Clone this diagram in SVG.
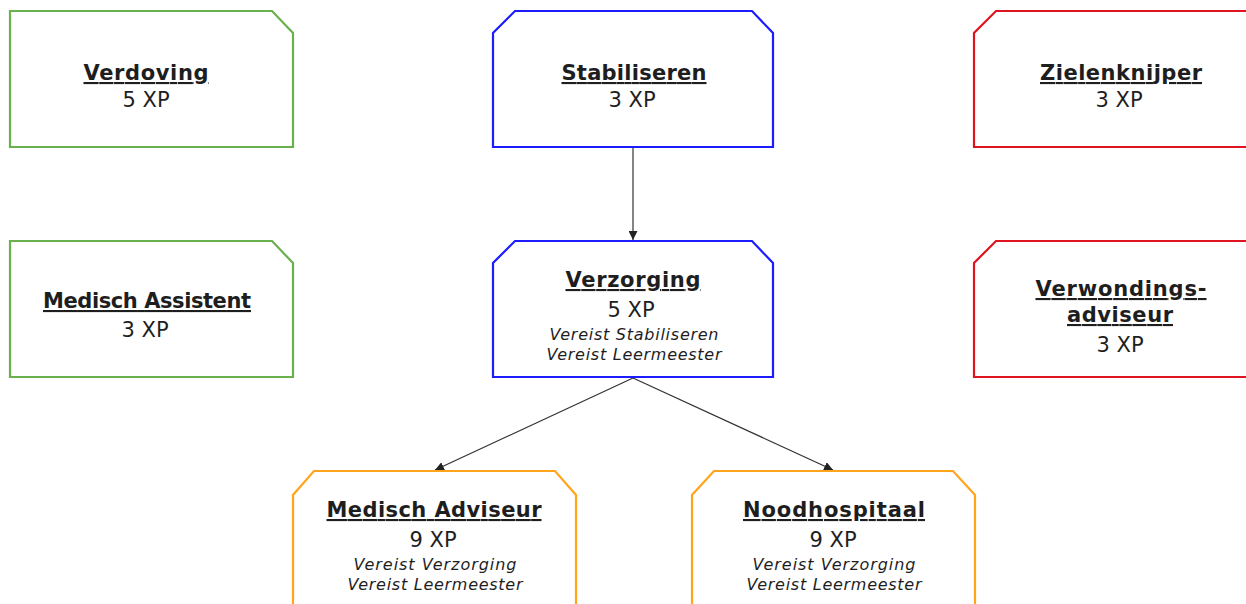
<svg xmlns="http://www.w3.org/2000/svg" width="1246" height="604" viewBox="0 0 1246 604">
<style>
.box{fill:#fff;stroke-width:2.2;stroke-linejoin:miter}
.g{stroke:#6ab04c}
.b{stroke:#1c1cff}
.r{stroke:#e0141e}
.o{stroke:#ffa41b}
text{font-family:"DejaVu Sans","Noto Sans",sans-serif;fill:#1e1e1e;text-anchor:middle}
.t{font-size:21px;font-weight:bold;text-decoration:underline}
.x{font-size:21px}
.i{font-size:16px;font-style:italic}
.c{stroke:#333;stroke-width:1.2;fill:none}
</style>
<defs>
<marker id="ah" viewBox="0 0 10 10" refX="10" refY="5" markerWidth="9" markerHeight="9" markerUnits="userSpaceOnUse" orient="auto">
<path d="M0,0 L10,5 L0,10 z" fill="#222"/>
</marker>
</defs>
<g id="connectors">
<line class="c" x1="633" y1="148" x2="633" y2="240" marker-end="url(#ah)"/>
<line class="c" x1="633" y1="378" x2="435" y2="470" marker-end="url(#ah)"/>
<line class="c" x1="633" y1="378" x2="833" y2="470" marker-end="url(#ah)"/>
</g>
<g id="verdoving">
<path class="box g" d="M10,11 H272 L293,33 V147 H10 Z"/>
<text class="t" x="146" y="80" textLength="125">Verdoving</text>
<text class="x" x="146" y="107">5 XP</text>
</g>
<g id="stabiliseren">
<path class="box b" d="M515,11 H752 L773,33 V147 H493 V33 Z"/>
<text class="t" x="634" y="80" textLength="145">Stabiliseren</text>
<text class="x" x="632" y="107">3 XP</text>
</g>
<g id="zielenknijper">
<path class="box r" d="M996,11 H1258 V147 H974 V33 Z"/>
<text class="t" x="1121" y="80" textLength="162">Zielenknijper</text>
<text class="x" x="1119" y="107">3 XP</text>
</g>
<g id="medisch-assistent">
<path class="box g" d="M10,241 H272 L293,263 V377 H10 Z"/>
<text class="t" x="147" y="308" textLength="208">Medisch Assistent</text>
<text class="x" x="145" y="337">3 XP</text>
</g>
<g id="verzorging">
<path class="box b" d="M515,241 H752 L773,263 V377 H493 V263 Z"/>
<text class="t" x="633" y="287" textLength="135">Verzorging</text>
<text class="x" x="631" y="317">5 XP</text>
<text class="i" x="634" y="340" textLength="169">Vereist Stabiliseren</text>
<text class="i" x="634" y="360" textLength="175">Vereist Leermeester</text>
</g>
<g id="verwondingsadviseur">
<path class="box r" d="M996,241 H1258 V377 H974 V263 Z"/>
<text class="t" x="1121" y="296" textLength="171">Verwondings-</text>
<text class="t" x="1120" y="322" textLength="106">adviseur</text>
<text class="x" x="1120" y="352">3 XP</text>
</g>
<g id="medisch-adviseur">
<path class="box o" d="M314,471 H555 L576,495 V620 H293 V495 Z"/>
<text class="t" x="434" y="517" textLength="215">Medisch Adviseur</text>
<text class="x" x="433" y="547">9 XP</text>
<text class="i" x="435" y="570" textLength="163">Vereist Verzorging</text>
<text class="i" x="435" y="590" textLength="175">Vereist Leermeester</text>
</g>
<g id="noodhospitaal">
<path class="box o" d="M714,471 H953 L975,495 V620 H692 V495 Z"/>
<text class="t" x="834" y="517" textLength="182">Noodhospitaal</text>
<text class="x" x="833" y="547">9 XP</text>
<text class="i" x="834" y="570" textLength="163">Vereist Verzorging</text>
<text class="i" x="834" y="590" textLength="175">Vereist Leermeester</text>
</g>
</svg>
